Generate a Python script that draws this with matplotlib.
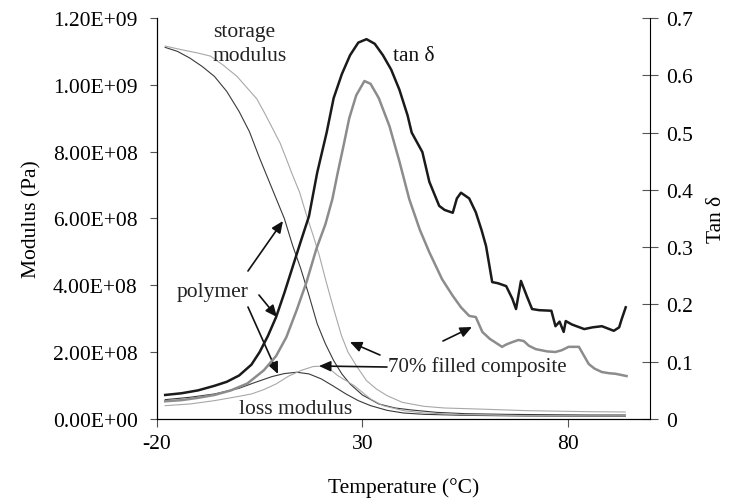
import matplotlib
matplotlib.use("Agg")
import matplotlib.pyplot as plt
from matplotlib.ticker import FuncFormatter, MultipleLocator

plt.rcParams['font.family'] = ['Liberation Serif', 'DejaVu Serif']
plt.rcParams['font.size'] = 15.5
plt.rcParams['axes.unicode_minus'] = False

# storage modulus (x1e8 Pa)
t_store_poly = [-18, -15, -12, -9, -6, -3, -1.5, 0, 2.5, 5, 8, 11, 13, 15, 17, 19, 21, 23, 25, 27,
                30, 34, 38, 42, 48, 55, 65, 75, 85, 94]
store_poly = [11.12, 11.0, 10.8, 10.55, 10.25, 9.8, 9.5, 9.2, 8.6, 7.8, 6.9, 6.0, 5.2, 4.5, 3.7,
              2.85, 2.25, 1.75, 1.35, 1.05, 0.72, 0.45, 0.33, 0.27, 0.2, 0.16, 0.14, 0.13, 0.12, 0.12]
t_store_comp = [-18, -14, -10, -7, -4, -0.5, 2, 4.3, 6, 8.2, 10, 11.5, 13, 14.7, 16.4, 18, 19.5,
                21.2, 23, 24.9, 26.5, 28.5, 31, 33.4, 36, 39.7, 45, 50, 58, 70, 85, 94]
store_comp = [11.16, 11.05, 10.95, 10.86, 10.6, 10.25, 9.9, 9.58, 9.2, 8.68, 8.25, 7.78, 7.3, 6.79,
              6.1, 5.5, 4.9, 4.1, 3.3, 2.5, 2.0, 1.6, 1.15, 0.9, 0.7, 0.5, 0.38, 0.33, 0.3, 0.25,
              0.22, 0.21]

# loss modulus (x1e8 Pa)
t_loss_poly = [-18, -12, -6, 0, 4, 8, 11, 14, 17, 20, 23, 26, 29, 32, 36, 40, 45, 55, 70, 85, 94]
loss_poly = [0.58, 0.65, 0.75, 0.92, 1.1, 1.27, 1.36, 1.4, 1.35, 1.2, 0.98, 0.75, 0.55, 0.4, 0.26,
             0.18, 0.14, 0.11, 0.09, 0.08, 0.08]
t_loss_comp = [-18, -12, -6, 0, 3, 6, 9, 12, 15, 18, 20, 22, 24, 26, 28, 30, 32, 35, 40, 45, 55, 70, 85, 94]
loss_comp = [0.4, 0.45, 0.55, 0.68, 0.75, 0.88, 1.05, 1.28, 1.45, 1.57, 1.58, 1.5, 1.3, 1.15, 1.0,
             0.8, 0.6, 0.4, 0.25, 0.18, 0.13, 0.1, 0.09, 0.09]

# tan delta
t_tan_poly = [-18, -14, -10, -6, -3, 0, 3, 5, 7, 9, 11, 13, 15, 17, 19, 21.3, 23, 25, 27, 29, 31, 33,
              35, 37, 39, 41, 42, 44.6, 46.3, 48.7, 50, 52, 53, 54, 55, 56, 57.6, 59, 60.1, 61.6, 63,
              65, 66.5, 67.4, 68.6, 70, 71.3, 73, 76, 77, 78, 79, 79.5, 81, 84, 86, 88.3, 91.2, 92.5,
              93.1, 94.1]
tan_poly = [0.042, 0.045, 0.05, 0.058, 0.065, 0.076, 0.095, 0.117, 0.145, 0.178, 0.22, 0.265, 0.31,
            0.354, 0.43, 0.5, 0.56, 0.602, 0.635, 0.657, 0.663, 0.655, 0.635, 0.61, 0.575, 0.53, 0.5,
            0.466, 0.414, 0.372, 0.365, 0.36, 0.385, 0.395, 0.39, 0.385, 0.361, 0.33, 0.302, 0.239,
            0.237, 0.232, 0.21, 0.192, 0.241, 0.215, 0.192, 0.19, 0.189, 0.162, 0.17, 0.152, 0.171,
            0.165, 0.157, 0.16, 0.162, 0.154, 0.16, 0.174, 0.195]
t_tan_comp = [-18, -14, -10, -6, -2, 2, 6, 9, 11.5, 14, 16.4, 18.8, 21, 22.7, 24, 25.5, 26.8, 28.5,
              30.5, 32, 34, 36.6, 39, 41.4, 44, 46.3, 49.4, 52, 54, 56, 57.6, 59.2, 61, 64, 65, 66.4,
              68, 69.3, 70.5, 72.2, 75, 77, 78.5, 80.2, 82.7, 85.1, 86.5, 88.3, 90, 91.6, 94.3]
tan_comp = [0.031, 0.033, 0.037, 0.042, 0.05, 0.062, 0.085, 0.11, 0.143, 0.19, 0.239, 0.297, 0.34,
            0.384, 0.43, 0.48, 0.525, 0.565, 0.59, 0.585, 0.56, 0.511, 0.45, 0.384, 0.33, 0.291, 0.244,
            0.215, 0.195, 0.18, 0.178, 0.152, 0.14, 0.126, 0.13, 0.134, 0.138, 0.136, 0.128, 0.122,
            0.118, 0.117, 0.12, 0.126, 0.126, 0.096, 0.088, 0.082, 0.08, 0.079, 0.075]

x_ticks = [-20, 30, 80]

DARK = '#1a1a1a'
GREY = '#8c8c8c'
DARK_THIN = '#3a3a3a'
LIGHT_THIN = '#a8a8a8'

fig = plt.figure(figsize=(7.38, 5.02), dpi=100)
ax = fig.add_axes([0.2127, 0.1633, 0.668, 0.7989])
ax2 = ax.twinx()

# moduli on the left axis
ax.plot(t_store_poly, [v * 1e8 for v in store_poly], color=DARK_THIN, lw=0.8)
ax.plot(t_store_comp, [v * 1e8 for v in store_comp], color=LIGHT_THIN, lw=0.8)
ax.plot(t_loss_poly, [v * 1e8 for v in loss_poly], color=DARK_THIN, lw=0.8)
ax.plot(t_loss_comp, [v * 1e8 for v in loss_comp], color=LIGHT_THIN, lw=0.8)

# tan delta on the right axis
ax2.plot(t_tan_comp, tan_comp, color=GREY, lw=1.8)
ax2.plot(t_tan_poly, tan_poly, color=DARK, lw=1.8)

ax.set_xlim(-20, 100)
ax.set_ylim(0, 1.2e9)
ax2.set_ylim(0, 0.7)
ax.set_xticks(x_ticks)
ax.yaxis.set_major_locator(MultipleLocator(2e8))
ax2.yaxis.set_major_locator(MultipleLocator(0.1))
ax.yaxis.set_major_formatter(FuncFormatter(lambda v, p: '{:.2E}'.format(v)))
ax2.yaxis.set_major_formatter(FuncFormatter(lambda v, p: '0' if abs(v) < 1e-9 else '{:.1f}'.format(v)))

for a in (ax, ax2):
    a.spines['top'].set_visible(False)
ax.tick_params(axis='x', direction='out', length=6, width=0.8, color='#555555', pad=5)
ax.tick_params(axis='y', direction='out', length=5, width=0.8, color='#555555', pad=9)
ax2.tick_params(axis='y', direction='inout', length=12, width=0.8, color='#555555', pad=6)
ax.spines['right'].set_visible(False)

ax.set_xlabel('Temperature (°C)', labelpad=17)
ax.set_ylabel('Modulus (Pa)', labelpad=8)
ax2.set_ylabel('Tan δ', labelpad=10)

# annotations placed in axes-fraction coordinates from the pixel layout
W, H, X0, Y0 = 493.0, 401.0, 157.0, 420.0


def frac(px, py):
    return ((px - X0) / W, (Y0 - py) / H)


ax.text(*frac(213, 23), 'storage\nmodulus', transform=ax.transAxes, ha='left', va='top',
        linespacing=1.35, color='#222222')
ax.text(*frac(393, 57), 'tan δ', transform=ax.transAxes, ha='left', va='center', color='#111111')
ax.text(*frac(213, 292), 'polymer', transform=ax.transAxes, ha='center', va='center', color='#222222')
ax.text(*frac(388, 367), '70% filled composite', transform=ax.transAxes, ha='left', va='center',
        color='#222222', fontsize=15)
ax.text(*frac(296, 409), 'loss modulus', transform=ax.transAxes, ha='center', va='center',
        color='#222222')

arrows = [((248, 272), (283, 222)), ((259, 296), (277, 318)), ((248, 308), (278, 375)),
          ((380, 356), (350, 343)), ((387, 368), (319, 367)), ((443, 342), (472, 328))]
for tail, tip in arrows:
    ax.annotate('', xy=frac(*tip), xytext=frac(*tail), xycoords='axes fraction',
                textcoords='axes fraction',
                arrowprops=dict(arrowstyle='-|>,head_length=0.45,head_width=0.2', color='#111111',
                                lw=1.2, shrinkA=0, shrinkB=0))

fig.savefig('out.png', dpi=100)
